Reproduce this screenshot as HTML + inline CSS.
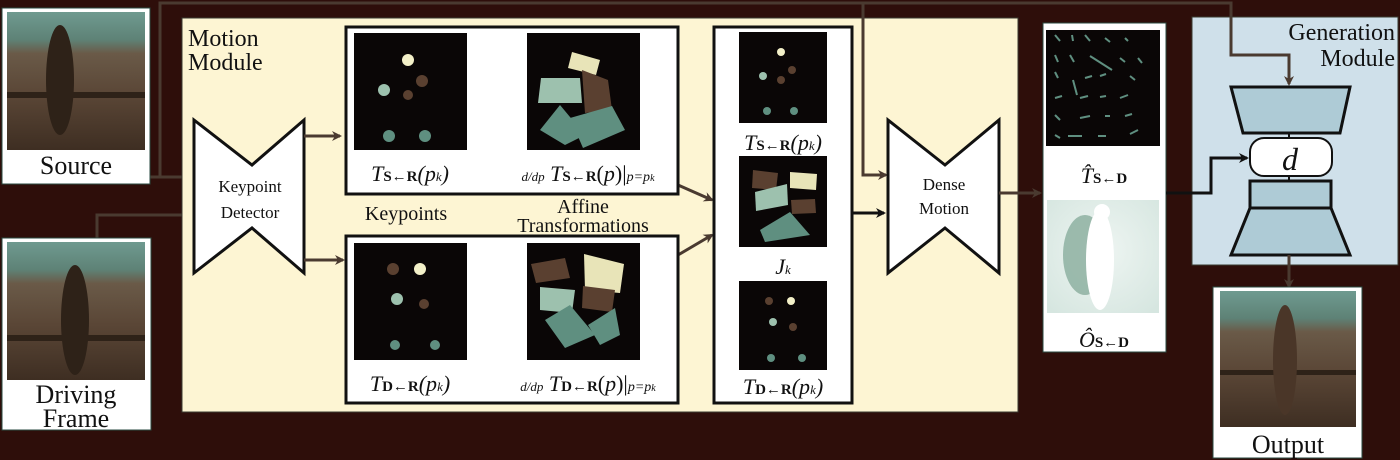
<!DOCTYPE html>
<html><head><meta charset="utf-8"><style>
html,body{margin:0;padding:0;background:#2e0e0a;}
svg{display:block}
text{font-family:"Liberation Serif",serif;fill:#111}
</style></head><body>
<svg width="1400" height="460" viewBox="0 0 1400 460">
<defs>
<marker id="ah" markerWidth="10" markerHeight="10" refX="8" refY="5" orient="auto" markerUnits="userSpaceOnUse"><path d="M0,0 L10,5 L0,10 L3,5z" fill="#4a3a30"/></marker>
<marker id="ahk" markerWidth="10" markerHeight="10" refX="8" refY="5" orient="auto" markerUnits="userSpaceOnUse"><path d="M0,0 L10,5 L0,10 L3,5z" fill="#111"/></marker>
<linearGradient id="photo" x1="0" y1="0" x2="0" y2="1"><stop offset="0" stop-color="#6f9a90"/><stop offset="0.2" stop-color="#5e8276"/><stop offset="0.3" stop-color="#6a5a48"/><stop offset="0.6" stop-color="#5a4636"/><stop offset="1" stop-color="#3e2e22"/></linearGradient>
<radialGradient id="occ" cx="0.5" cy="0.45" r="0.7"><stop offset="0" stop-color="#eef5f2"/><stop offset="1" stop-color="#d6e6e0"/></radialGradient>
</defs>
<rect width="1400" height="460" fill="#2e0e0a"/>

<g fill="none" stroke="#4a3a30" stroke-width="3">
<polyline points="150,177 160,177 160,3 1231,3 1231,55 1289,55 1289,82" marker-end="url(#ah)"/>
<polyline points="160,177 192,177" marker-end="url(#ah)"/>
<polyline points="97,238 97,215 192,215" marker-end="url(#ah)"/>
</g>

<g>
<rect x="2" y="8" width="148" height="176" fill="#fff" stroke="#2a4a40"/>
<rect x="7" y="12" width="138" height="138" fill="url(#photo)"/>
<rect x="7" y="92" width="138" height="6" fill="#2e2218"/>
<ellipse cx="60" cy="80" rx="14" ry="55" fill="#2e2218"/>
<text x="76" y="174" font-size="26" text-anchor="middle">Source</text>
</g>
<g>
<rect x="2" y="238" width="149" height="192" fill="#fff" stroke="#2a4a40"/>
<rect x="7" y="242" width="138" height="138" fill="url(#photo)"/>
<rect x="7" y="335" width="138" height="6" fill="#2e2218"/>
<ellipse cx="75" cy="320" rx="14" ry="55" fill="#2e2218"/>
<text x="76" y="403" font-size="26" text-anchor="middle">Driving</text>
<text x="76" y="427" font-size="26" text-anchor="middle">Frame</text>
</g>

<g>
<rect x="182" y="18" width="836" height="394" fill="#fdf5d3" stroke="#3a3a30" stroke-width="1"/>
<polyline points="863,3 863,175 886,175" fill="none" stroke="#4a3a30" stroke-width="3" marker-end="url(#ah)"/>
<text x="188" y="46" font-size="24">Motion</text>
<text x="188" y="70" font-size="24">Module</text>
<path d="M194,120 L252,165 L304,120 L304,273 L252,228 L194,273Z" fill="#fff" stroke="#111" stroke-width="3"/>
<text x="250" y="192" font-size="17" text-anchor="middle">Keypoint</text>
<text x="250" y="218" font-size="17" text-anchor="middle">Detector</text>
<line x1="304" y1="136" x2="340" y2="136" stroke="#4a3a30" stroke-width="3" marker-end="url(#ah)"/>
<line x1="304" y1="260" x2="343" y2="260" stroke="#4a3a30" stroke-width="3" marker-end="url(#ah)"/>
<line x1="678" y1="185" x2="712" y2="200" stroke="#4a3a30" stroke-width="3" marker-end="url(#ah)"/>
<line x1="678" y1="255" x2="712" y2="235" stroke="#4a3a30" stroke-width="3" marker-end="url(#ah)"/>

<rect x="346" y="27" width="332" height="167" fill="#fff" stroke="#111" stroke-width="3"/>
<rect x="354" y="33" width="113" height="117" fill="#0a0606"/>
<circle cx="408" cy="60" r="6" fill="#f3f0c8"/><circle cx="384" cy="90" r="6" fill="#9dc1ae"/><circle cx="422" cy="81" r="6" fill="#5a4030"/><circle cx="408" cy="95" r="5" fill="#5a4030"/><circle cx="389" cy="136" r="6" fill="#5f8f80"/><circle cx="425" cy="136" r="6" fill="#5f8f80"/>
<rect x="527" y="33" width="113" height="117" fill="#0a0606"/>
<polygon points="572,52 600,60 596,75 568,68" fill="#e8e4b8"/><polygon points="541,78 580,78 582,103 538,103" fill="#9dc1ae"/><polygon points="582,70 608,80 612,110 585,113" fill="#5a4030"/><polygon points="540,130 560,105 585,135 565,145" fill="#5f8f80"/><polygon points="570,118 612,106 625,130 583,148" fill="#5f8f80"/>
<text x="410" y="181" font-size="22" text-anchor="middle" font-style="italic">T<tspan font-size="15" font-weight="bold" font-style="normal">S←R</tspan>(p<tspan font-size="13">k</tspan>)</text>
<text x="588" y="181" font-size="22" text-anchor="middle"><tspan font-size="13" font-style="italic">d/dp</tspan> <tspan font-style="italic">T</tspan><tspan font-size="15" font-weight="bold">S←R</tspan>(<tspan font-style="italic">p</tspan>)|<tspan font-size="14" font-style="italic">p=p</tspan><tspan font-size="10" font-style="italic">k</tspan></text>
<text x="406" y="220" font-size="20" text-anchor="middle">Keypoints</text>
<text x="583" y="213" font-size="20" text-anchor="middle">Affine</text>
<text x="583" y="232" font-size="20" text-anchor="middle">Transformations</text>

<rect x="346" y="236" width="332" height="167" fill="#fff" stroke="#111" stroke-width="3"/>
<rect x="354" y="243" width="113" height="117" fill="#0a0606"/>
<circle cx="393" cy="269" r="6" fill="#5a4030"/><circle cx="420" cy="269" r="6" fill="#f3f0c8"/><circle cx="397" cy="299" r="6" fill="#9dc1ae"/><circle cx="424" cy="304" r="5" fill="#5a4030"/><circle cx="395" cy="345" r="5" fill="#5f8f80"/><circle cx="435" cy="345" r="5" fill="#5f8f80"/>
<rect x="527" y="243" width="113" height="117" fill="#0a0606"/>
<polygon points="531,264 565,258 570,278 536,283" fill="#5a4030"/><polygon points="584,254 624,264 620,293 585,290" fill="#e8e4b8"/><polygon points="540,287 575,290 572,313 540,310" fill="#9dc1ae"/><polygon points="583,286 615,290 612,312 582,308" fill="#5a4030"/><polygon points="545,320 570,305 595,335 565,348" fill="#5f8f80"/><polygon points="588,325 615,308 620,335 600,345" fill="#5f8f80"/>
<text x="410" y="391" font-size="22" text-anchor="middle" font-style="italic">T<tspan font-size="15" font-weight="bold" font-style="normal">D←R</tspan>(p<tspan font-size="13">k</tspan>)</text>
<text x="588" y="391" font-size="22" text-anchor="middle"><tspan font-size="13" font-style="italic">d/dp</tspan> <tspan font-style="italic">T</tspan><tspan font-size="15" font-weight="bold">D←R</tspan>(<tspan font-style="italic">p</tspan>)|<tspan font-size="14" font-style="italic">p=p</tspan><tspan font-size="10" font-style="italic">k</tspan></text>

<rect x="714" y="27" width="138" height="376" fill="#fff" stroke="#111" stroke-width="3"/>
<rect x="739" y="32" width="88" height="91" fill="#0a0606"/>
<circle cx="781" cy="52" r="4" fill="#f3f0c8"/><circle cx="763" cy="76" r="4" fill="#9dc1ae"/><circle cx="792" cy="70" r="4" fill="#5a4030"/><circle cx="781" cy="80" r="4" fill="#5a4030"/><circle cx="767" cy="111" r="4" fill="#5f8f80"/><circle cx="794" cy="111" r="4" fill="#5f8f80"/>
<rect x="739" y="156" width="88" height="91" fill="#0a0606"/>
<polygon points="753,170 778,173 776,190 752,188" fill="#5a4030"/><polygon points="790,172 817,174 816,190 790,188" fill="#e8e4b8"/><polygon points="755,192 787,184 788,205 756,211" fill="#9dc1ae"/><polygon points="791,200 815,199 816,213 792,214" fill="#5a4030"/><polygon points="760,230 790,212 810,235 765,242" fill="#5f8f80"/>
<rect x="739" y="281" width="88" height="89" fill="#0a0606"/>
<circle cx="769" cy="301" r="4" fill="#5a4030"/><circle cx="791" cy="301" r="4" fill="#f3f0c8"/><circle cx="773" cy="322" r="4" fill="#9dc1ae"/><circle cx="793" cy="327" r="4" fill="#5a4030"/><circle cx="771" cy="358" r="4" fill="#5f8f80"/><circle cx="802" cy="358" r="4" fill="#5f8f80"/>
<text x="783" y="150" font-size="22" text-anchor="middle" font-style="italic">T<tspan font-size="15" font-weight="bold" font-style="normal">S←R</tspan>(p<tspan font-size="13">k</tspan>)</text>
<text x="783" y="274" font-size="22" text-anchor="middle" font-style="italic">J<tspan font-size="13">k</tspan></text>
<text x="783" y="394" font-size="22" text-anchor="middle" font-style="italic">T<tspan font-size="15" font-weight="bold" font-style="normal">D←R</tspan>(p<tspan font-size="13">k</tspan>)</text>
<line x1="852" y1="213" x2="884" y2="213" stroke="#111" stroke-width="3" marker-end="url(#ahk)"/>
<path d="M888,120 L945,165 L999,120 L999,273 L945,228 L888,273Z" fill="#fff" stroke="#111" stroke-width="3"/>
<text x="944" y="190" font-size="17" text-anchor="middle">Dense</text>
<text x="944" y="214" font-size="17" text-anchor="middle">Motion</text>
</g>
<line x1="999" y1="193" x2="1040" y2="193" stroke="#4a3a30" stroke-width="3" marker-end="url(#ah)"/>

<g>
<rect x="1043" y="23" width="123" height="329" fill="#fff" stroke="#2a4a40"/>
<rect x="1046" y="30" width="114" height="116" fill="#0a0606"/>
<g stroke="#5f8f80" stroke-width="2">
<line x1="1055" y1="35" x2="1060" y2="41"/><line x1="1072" y1="35" x2="1073" y2="41"/><line x1="1085" y1="35" x2="1090" y2="41"/><line x1="1105" y1="38" x2="1110" y2="42"/><line x1="1125" y1="38" x2="1128" y2="41"/>
<line x1="1055" y1="55" x2="1058" y2="62"/><line x1="1070" y1="55" x2="1074" y2="62"/><line x1="1090" y1="56" x2="1112" y2="70"/><line x1="1120" y1="58" x2="1125" y2="62"/><line x1="1138" y1="58" x2="1142" y2="63"/>
<line x1="1055" y1="72" x2="1058" y2="78"/><line x1="1073" y1="80" x2="1077" y2="95"/><line x1="1085" y1="78" x2="1092" y2="76"/><line x1="1100" y1="76" x2="1106" y2="74"/><line x1="1130" y1="76" x2="1135" y2="80"/>
<line x1="1055" y1="98" x2="1062" y2="96"/><line x1="1080" y1="98" x2="1088" y2="96"/><line x1="1100" y1="97" x2="1106" y2="96"/><line x1="1120" y1="98" x2="1128" y2="95"/>
<line x1="1055" y1="115" x2="1060" y2="120"/><line x1="1080" y1="118" x2="1090" y2="116"/><line x1="1105" y1="116" x2="1110" y2="116"/><line x1="1125" y1="116" x2="1132" y2="114"/>
<line x1="1055" y1="135" x2="1060" y2="138"/><line x1="1068" y1="136" x2="1082" y2="136"/><line x1="1098" y1="136" x2="1106" y2="136"/><line x1="1130" y1="134" x2="1138" y2="130"/>
</g>
<text x="1104" y="183" font-size="22" text-anchor="middle" font-style="italic">T̂<tspan font-size="15" font-weight="bold" font-style="normal">S←D</tspan></text>
<rect x="1047" y="200" width="112" height="113" fill="url(#occ)"/>
<ellipse cx="1085" cy="255" rx="22" ry="40" fill="#88ad9c" opacity="0.8"/>
<ellipse cx="1100" cy="260" rx="14" ry="50" fill="#ffffff"/>
<circle cx="1102" cy="212" r="8" fill="#ffffff"/>
<text x="1104" y="347" font-size="22" text-anchor="middle" font-style="italic">Ô<tspan font-size="15" font-weight="bold" font-style="normal">S←D</tspan></text>
</g>

<g>
<rect x="1192" y="17" width="206" height="248" fill="#cfe0ea" stroke="#3a3a30"/>
<polyline points="1231,17 1231,55 1289,55 1289,84" fill="none" stroke="#4a3a30" stroke-width="3" marker-end="url(#ah)"/>
<text x="1395" y="40" font-size="24" text-anchor="end">Generation</text>
<text x="1395" y="66" font-size="24" text-anchor="end">Module</text>
<polygon points="1231,87 1350,87 1340,133 1243,133" fill="#aecbd6" stroke="#111" stroke-width="3"/>
<line x1="1289" y1="133" x2="1289" y2="138" stroke="#111" stroke-width="2"/>
<rect x="1250" y="138" width="82" height="38" rx="14" fill="#fff" stroke="#111" stroke-width="2"/>
<text x="1290" y="170" font-size="32" text-anchor="middle" font-style="italic">d</text>
<line x1="1289" y1="176" x2="1289" y2="181" stroke="#111" stroke-width="2"/>
<rect x="1250" y="181" width="81" height="27" fill="#aecbd6" stroke="#111" stroke-width="3"/>
<polygon points="1250,208 1331,208 1350,255 1231,255" fill="#aecbd6" stroke="#111" stroke-width="3"/>
</g>
<polyline points="1166,193 1211,193 1211,158 1247,158" fill="none" stroke="#111" stroke-width="3" marker-end="url(#ahk)"/>
<line x1="1289" y1="255" x2="1289" y2="287" stroke="#4a3a30" stroke-width="3" marker-end="url(#ah)"/>

<g>
<rect x="1213" y="287" width="149" height="171" fill="#fff" stroke="#2a4a40"/>
<rect x="1220" y="291" width="136" height="136" fill="url(#photo)"/>
<rect x="1220" y="370" width="136" height="5" fill="#2e2218"/>
<ellipse cx="1285" cy="360" rx="12" ry="55" fill="#4a3628"/>
<text x="1288" y="453" font-size="26" text-anchor="middle">Output</text>
</g>
</svg>
</body></html>
